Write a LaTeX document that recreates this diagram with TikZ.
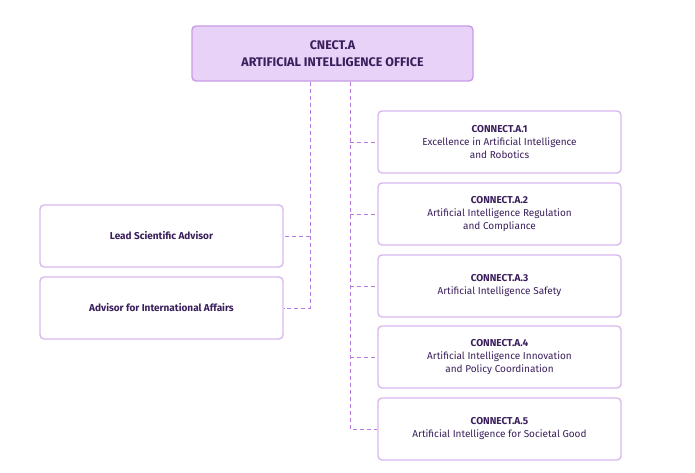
\documentclass[tikz,border=0pt]{standalone}
\usepackage{fontspec}
\setmainfont{Fira Sans}
\begin{document}
\begin{tikzpicture}[x=1pt,y=-1pt,
  box/.style={draw=boxline,line width=1.4pt,rounded corners=4pt,fill=white,text=ink,align=center,font=\fontsize{10}{13}\selectfont,inner sep=0pt},
  conn/.style={draw=dashc,dashed,dash pattern=on 4pt off 3pt,line width=0.9pt}]
\definecolor{boxline}{HTML}{D9B8F0}
\definecolor{topfill}{HTML}{E8D2F7}
\definecolor{topline}{HTML}{C79BE6}
\definecolor{ink}{HTML}{3A1F5C}
\definecolor{dashc}{HTML}{B57BE0}
\useasboundingbox (0,0) rectangle (695,473);
\node[box,draw=topline,fill=topfill,minimum width=281pt,minimum height=55pt,font=\fontsize{12.5}{17}\selectfont\bfseries] (top) at (332.5,53.5) {CNECT.A\\ARTIFICIAL INTELLIGENCE OFFICE};
\node[box,minimum width=243pt,minimum height=62pt] (a1) at (499.5,142) {\textbf{CONNECT.A.1}\\Excellence in Artificial Intelligence\\and Robotics};
\node[box,minimum width=243pt,minimum height=62pt] (a2) at (499.5,214) {\textbf{CONNECT.A.2}\\Artificial Intelligence Regulation\\and Compliance};
\node[box,minimum width=243pt,minimum height=62pt] (a3) at (499.5,286) {\textbf{CONNECT.A.3}\\Artificial Intelligence Safety};
\node[box,minimum width=243pt,minimum height=62pt] (a4) at (499.5,357) {\textbf{CONNECT.A.4}\\Artificial Intelligence Innovation\\and Policy Coordination};
\node[box,minimum width=243pt,minimum height=62pt] (a5) at (499.5,429) {\textbf{CONNECT.A.5}\\Artificial Intelligence for Societal Good};
\node[box,minimum width=243pt,minimum height=62pt,font=\fontsize{10}{13}\selectfont\bfseries] (l1) at (161.5,236) {Lead Scientific Advisor};
\node[box,minimum width=243pt,minimum height=62pt,font=\fontsize{10}{13}\selectfont\bfseries] (l2) at (161.5,308) {Advisor for International Affairs};
\coordinate (r) at (350,0);
\coordinate (l) at (310,0);
\draw[conn] (top.south -| r) -- (a5.west -| r) -- (a5.west);
\foreach \n in {a1,a2,a3,a4} \draw[conn] (\n.west -| r) -- (\n.west);
\draw[conn] (top.south -| l) -- (l2.east -| l) -- (l2.east);
\draw[conn] (l1.east -| l) -- (l1.east);
\end{tikzpicture}
\end{document}
